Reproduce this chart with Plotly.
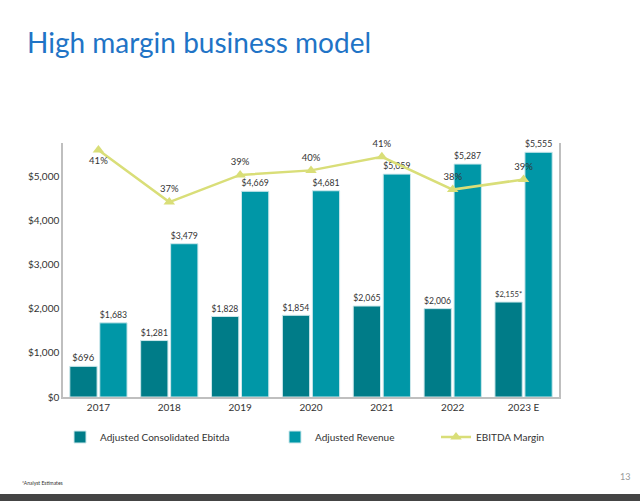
import plotly.graph_objects as go

years = ["2017", "2018", "2019", "2020", "2021", "2022", "2023 E"]
ebitda = [696, 1281, 1828, 1854, 2065, 2006, 2155]
ebitda_labels = ["$696", "$1,281", "$1,828", "$1,854", "$2,065", "$2,006", "$2,155*"]
revenue = [1683, 3479, 4669, 4681, 5059, 5287, 5555]
revenue_labels = ["$1,683", "$3,479", "$4,669", "$4,681", "$5,059", "$5,287", "$5,555"]
margin = [41.4, 36.8, 39.2, 39.6, 40.8, 37.9, 38.8]
margin_labels = ["41%", "37%", "39%", "40%", "41%", "38%", "39%"]
margin_pos = ["bottom center", "top center", "top center", "top center", "top center", "top center", "top center"]
y_ticks = [0, 1000, 2000, 3000, 4000, 5000]
y_tick_labels = ["$0", "$1,000", "$2,000", "$3,000", "$4,000", "$5,000"]

FONT = "Lato"
TXT = "#333333"

L, R, T, B = 63, 81, 143, 104
W, H = 640, 501
pw, ph = W - L - R, H - T - B

def px_x(x):
    return (x - L) / pw

def px_y(y):
    return (H - B - y) / ph

fig = go.Figure()
fig.add_trace(go.Bar(
    x=years, y=ebitda, name="Adjusted Consolidated Ebitda",
    marker=dict(color="#007C88", line=dict(color="#CDE8EC", width=1)),
    text=ebitda_labels, textposition="outside", cliponaxis=False,
    textfont=dict(size=9.5, color=TXT, family=FONT),
    legend="legend",
))
fig.add_trace(go.Bar(
    x=years, y=revenue, name="Adjusted Revenue",
    marker=dict(color="#0097A7", line=dict(color="#CDE8EC", width=1)),
    text=revenue_labels, textposition="outside", cliponaxis=False,
    textfont=dict(size=9.5, color=TXT, family=FONT),
    legend="legend2",
))
fig.add_trace(go.Scatter(
    x=years, y=margin, name="EBITDA Margin", yaxis="y2",
    mode="lines+markers+text",
    line=dict(color="#D9DE78", width=2.5),
    marker=dict(symbol="triangle-up", size=10, color="#D9DE78"),
    text=margin_labels, textposition=margin_pos, cliponaxis=False,
    textfont=dict(size=9.5, color=TXT, family=FONT),
    legend="legend3",
))

leg_common = dict(orientation="h", yanchor="middle", y=px_y(437), xanchor="left",
                  font=dict(size=10, color=TXT, family=FONT), bgcolor="rgba(0,0,0,0)",
                  itemwidth=30)
fig.update_layout(
    width=W, height=H,
    margin=dict(l=L, r=R, t=T, b=B),
    paper_bgcolor="white", plot_bgcolor="white",
    barmode="group", bargap=0.154, bargroupgap=0.09,
    font=dict(family=FONT, color=TXT, size=10),
    showlegend=True,
    legend=dict(leg_common, x=px_x(60)),
    legend2=dict(leg_common, x=px_x(275)),
    legend3=dict(leg_common, x=px_x(436)),
    xaxis=dict(showgrid=False, showline=True, linecolor="#BFBFBF", linewidth=1.5,
               ticks="", tickfont=dict(size=10, color=TXT), range=[-0.5, 6.5]),
    yaxis=dict(range=[0, 5765], tickvals=y_ticks, ticktext=y_tick_labels,
               showgrid=False, showline=True, linecolor="#BFBFBF", linewidth=1.5,
               ticks="", tickfont=dict(size=10, color=TXT), zeroline=False),
    yaxis2=dict(range=[19.57, 42.02], overlaying="y", side="right", showgrid=False,
                showticklabels=False, showline=True, linecolor="#BFBFBF", linewidth=1.5,
                zeroline=False, ticks=""),
    annotations=[
        dict(text="High margin business model", xref="paper", yref="paper",
             x=px_x(25), y=px_y(42), xanchor="left", yanchor="middle", showarrow=False,
             font=dict(size=28, color="#1F74C6", family=FONT)),
        dict(text="*Analyst Estimates", xref="paper", yref="paper",
             x=px_x(20), y=px_y(483), xanchor="left", yanchor="middle", showarrow=False,
             font=dict(size=5, color="#333333", family=FONT)),
        dict(text="13", xref="paper", yref="paper",
             x=px_x(632), y=px_y(476), xanchor="right", yanchor="middle", showarrow=False,
             font=dict(size=9, color="#999999", family=FONT)),
    ],
    shapes=[
        dict(type="rect", xref="paper", yref="paper", x0=px_x(0), x1=px_x(640),
             y0=px_y(501), y1=px_y(494), fillcolor="#444444", line=dict(width=0), layer="above"),
    ],
)

fig.write_html("out.html", config={"displayModeBar": False},
               post_script="document.body.style.margin='0';document.body.style.overflow='hidden';")
